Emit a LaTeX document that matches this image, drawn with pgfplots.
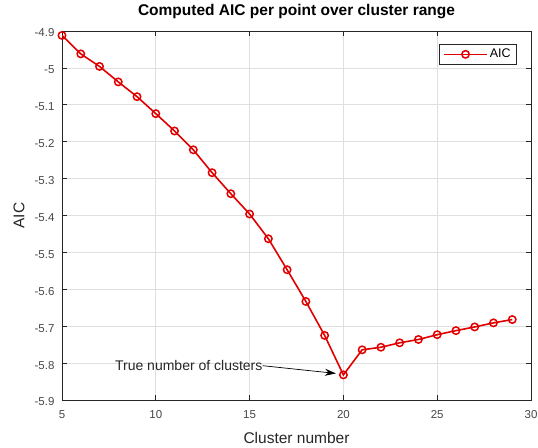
\documentclass[border=0pt]{standalone}
\usepackage{pgfplots}
\pgfplotsset{compat=1.18}
\usepackage{fontspec}
\setmainfont{Liberation Sans}
\usetikzlibrary{arrows.meta}
\definecolor{axgray}{RGB}{38,38,38}
\definecolor{gridgray}{RGB}{223,223,223}
\definecolor{aicred}{RGB}{225,0,0}

\pgfplotstableread{
k    aic
5   -4.912
6   -4.962
7   -4.996
8   -5.038
9   -5.078
10  -5.124
11  -5.171
12  -5.222
13  -5.284
14  -5.341
15  -5.396
16  -5.463
17  -5.547
18  -5.633
19  -5.725
20  -5.832
21  -5.764
22  -5.757
23  -5.745
24  -5.736
25  -5.723
26  -5.712
27  -5.702
28  -5.691
29  -5.682
}\aicdata

\begin{document}
\begin{tikzpicture}
\begin{axis}[
    scale only axis,
    width=469pt, height=369pt,
    xmin=5, xmax=30,
    ymin=-5.9, ymax=-4.9,
    xtick={5,10,...,30},
    ytick={-5.9,-5.8,-5.7,-5.6,-5.5,-5.4,-5.3,-5.2,-5.1,-5,-4.9},
    grid=major,
    grid style={gridgray, line width=0.6pt},
    axis line style={axgray, line width=0.7pt},
    tick style={axgray, line width=0.7pt},
    tick align=inside,
    major tick length=5pt,
    ticklabel style={font=\fontsize{11.5}{12}\selectfont, text=axgray!85},
    xticklabel style={yshift=-7pt},
    yticklabel style={xshift=-4pt, yshift=-2pt},
    /pgf/number format/assume math mode=true,
    xlabel={Cluster number},
    ylabel={AIC},
    label style={font=\fontsize{15.5}{17}\selectfont, text=axgray},
    xlabel style={at={(axis description cs:0.5,-0.104)}, anchor=center},
    ylabel style={at={(axis description cs:-0.0917,0.5)}, anchor=center},
    title={Computed AIC per point over cluster range},
    title style={font=\fontsize{15.5}{17}\selectfont\bfseries, text=black,
        at={(axis description cs:0.5,1.0366)}, anchor=center},
    legend style={at={(axis description cs:0.970,0.965)}, anchor=north east,
        draw=axgray, line width=0.6pt, font=\fontsize{12.5}{14}\selectfont,
        inner xsep=4pt, inner ysep=3pt},
    legend cell align=left,
    legend image code/.code={
        \draw[mark repeat=2, mark phase=2, #1]
            plot coordinates {(0cm,0cm) (0.755cm,0cm) (1.51cm,0cm)};},
]
\addplot[color=aicred, line width=1.6pt, mark=o,
    mark options={line width=1.5pt}, mark size=3.7pt]
    table[x=k, y=aic] {\aicdata};
\addlegendentry{AIC}

\node[font=\fontsize{14}{15}\selectfont, text=axgray, anchor=west, inner sep=0pt]
    (lab) at (axis cs:7.82,-5.807) {True number of clusters};
\draw[-{Stealth[length=11pt,width=7pt]}, black, line width=0.7pt]
    (lab.east) -- (axis cs:19.6,-5.828);
\end{axis}
\pgfresetboundingbox
\path (-62pt,-47pt) rectangle (476pt,400pt);
\end{tikzpicture}
\end{document}
